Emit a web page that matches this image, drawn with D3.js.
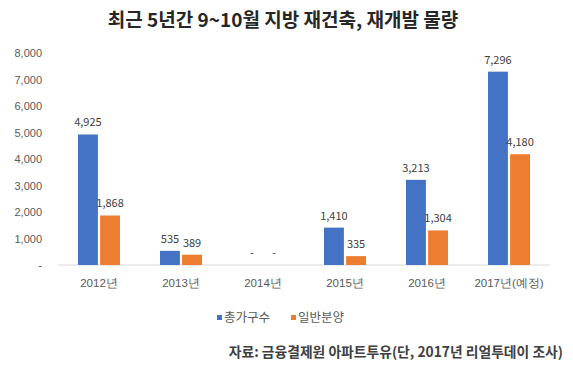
<!DOCTYPE html>
<html>
<head>
<meta charset="utf-8">
<script src="https://cdn.jsdelivr.net/npm/d3@7"></script>
<style>
  body { margin: 0; background: #fff; }
  svg { font-family: "Noto Sans CJK KR", "Noto Sans", sans-serif; }
</style>
</head>
<body>
<script>
// chart data
var years = ["2012년", "2013년", "2014년", "2015년", "2016년", "2017년(예정)"];
var totalHouses = [4925, 535, 0, 1410, 3213, 7296];   // 총가구수
var generalSale = [1868, 389, 0, 335, 1304, 4180];   // 일반분양
var seriesNames = ["총가구수", "일반분양"];
var yTicks = [0, 1000, 2000, 3000, 4000, 5000, 6000, 7000, 8000];

var colors = ["#4472c4", "#ed7d31"];

var width = 573, height = 371;
var margin = { top: 53, right: 23, bottom: 106, left: 58 };
var innerW = width - margin.left - margin.right;
var innerH = height - margin.top - margin.bottom;

var svg = d3.select("body").append("svg")
    .attr("width", width)
    .attr("height", height);

// title
svg.append("text")
    .attr("x", 283)
    .attr("y", 27)
    .attr("text-anchor", "middle")
    .style("font-size", "19px")
    .style("font-weight", "bold")
    .style("fill", "#262626")
    .text("최근 5년간 9~10월 지방 재건축, 재개발 물량");

var g = svg.append("g")
    .attr("transform", "translate(" + margin.left + "," + margin.top + ")");

var x = d3.scaleBand().domain(years).range([0, innerW]);
var xs = d3.scaleBand().domain([0, 1]).range([x.bandwidth() / 2 - 21, x.bandwidth() / 2 + 21]).paddingInner(0.1);
var y = d3.scaleLinear().domain([0, 8000]).range([innerH, 0]);

// y axis labels
var yAxis = d3.axisLeft(y)
    .tickValues(yTicks)
    .tickSize(0)
    .tickPadding(16)
    .tickFormat(function(d) { return d === 0 ? "-" : d3.format(",")(d); });

g.append("g")
    .call(yAxis)
    .call(function(s) { s.select(".domain").remove(); })
    .selectAll("text")
    .style("font-size", "11px")
    .style("fill", "#595959");

// baseline
g.append("line")
    .attr("x1", 0).attr("x2", innerW)
    .attr("y1", innerH).attr("y2", innerH)
    .style("stroke", "#d9d9d9");

// x axis labels
var xAxis = d3.axisBottom(x).tickSize(0).tickPadding(14);
g.append("g")
    .attr("transform", "translate(0," + innerH + ")")
    .call(xAxis)
    .call(function(s) { s.select(".domain").remove(); })
    .selectAll("text")
    .style("font-size", "11.5px")
    .style("fill", "#595959");

// bars
var rows = years.map(function(yr, i) {
  return { year: yr, values: [totalHouses[i], generalSale[i]] };
});

var groups = g.selectAll("g.year")
    .data(rows)
  .enter().append("g")
    .attr("class", "year")
    .attr("transform", function(d) { return "translate(" + x(d.year) + ",0)"; });

groups.selectAll("rect")
    .data(function(d) { return d.values.map(function(v, k) { return { k: k, v: v }; }); })
  .enter().append("rect")
    .attr("x", function(d) { return xs(d.k); })
    .attr("width", xs.bandwidth())
    .attr("y", function(d) { return y(d.v); })
    .attr("height", function(d) { return innerH - y(d.v); })
    .style("fill", function(d) { return colors[d.k]; });

// value labels
groups.selectAll("text.val")
    .data(function(d) { return d.values.map(function(v, k) { return { k: k, v: v }; }); })
  .enter().append("text")
    .attr("class", "val")
    .attr("x", function(d) { return xs(d.k) + xs.bandwidth() / 2; })
    .attr("y", function(d) { return y(d.v) - 8; })
    .attr("text-anchor", "middle")
    .style("font-size", "11px")
    .style("fill", "#404040")
    .text(function(d) { return d.v === 0 ? "-" : d3.format(",")(d.v); });

// legend
var legendX = [217, 291];
var legend = svg.selectAll(".legend")
    .data(seriesNames)
  .enter().append("g")
    .attr("class", "legend")
    .attr("transform", function(d, i) { return "translate(" + legendX[i] + ",318)"; });

legend.append("rect")
    .attr("x", 0).attr("y", -3)
    .attr("width", 5).attr("height", 5)
    .style("fill", function(d, i) { return colors[i]; });

legend.append("text")
    .attr("x", 7)
    .attr("dy", "0.35em")
    .style("font-size", "12.5px")
    .style("fill", "#595959")
    .text(function(d) { return d; });

// source note
svg.append("text")
    .attr("x", 563)
    .attr("y", 352)
    .attr("dy", "0.35em")
    .attr("text-anchor", "end")
    .style("font-size", "13.8px")
    .style("font-weight", "bold")
    .style("fill", "#404040")
    .text("자료: 금융결제원 아파트투유(단, 2017년 리얼투데이 조사)");
</script>
</body>
</html>
